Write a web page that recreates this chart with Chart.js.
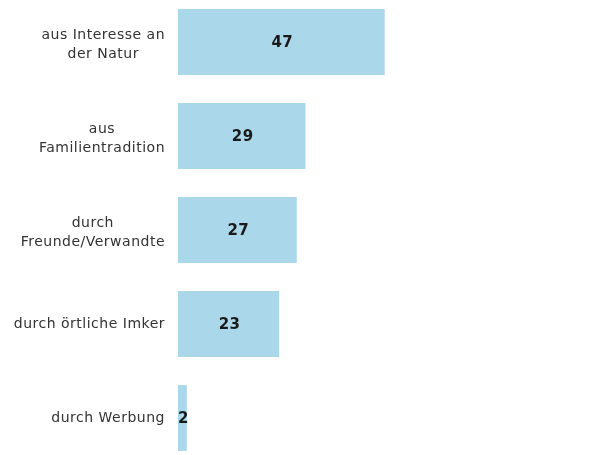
<!DOCTYPE html>
<html>
<head>
<meta charset="utf-8">
<script src="https://cdn.jsdelivr.net/npm/chart.js@4"></script>
<style>
  html, body { margin: 0; padding: 0; background: #fff; overflow: hidden; }
  #wrap { position: absolute; left: 0; top: -5px; width: 609px; height: 470px; }
</style>
</head>
<body>
<div id="wrap"><canvas id="chart" width="609" height="470"></canvas></div>
<script>
// categories and values
const categories = [
  ["aus Interesse an", "der Natur"],
  ["aus", "Familientradition"],
  ["durch", "Freunde/Verwandte"],
  ["durch örtliche Imker"],
  ["durch Werbung"]
];
const values = [47, 29, 27, 23, 2];

const barColor = "#aad8ea";
const labelFont = '14px "DejaVu Sans", Verdana, sans-serif';
const valueFont = 'bold 15px "DejaVu Sans", Verdana, sans-serif';

// draws the category texts (block right-aligned, lines centred) and the numbers in the bars
const textPlugin = {
  id: "texts",
  afterDatasetsDraw(chart) {
    const ctx = chart.ctx;
    const yScale = chart.scales.y;
    ctx.save();
    ctx.textBaseline = "middle";

    ctx.font = labelFont;
    ctx.letterSpacing = "0.5px";
    ctx.fillStyle = "#333";
    ctx.textAlign = "center";
    categories.forEach((lines, i) => {
      const y = yScale.getPixelForValue(i);
      const blockW = Math.max(...lines.map(l => ctx.measureText(l).width));
      const cx = 165 - blockW / 2;
      const lh = 19;
      const off = lines.length > 1 ? 3 : 0;
      lines.forEach((line, j) => {
        ctx.fillText(line, cx, y + (j - (lines.length - 1) / 2) * lh + off);
      });
    });

    ctx.font = valueFont;
    ctx.letterSpacing = "0.5px";
    ctx.fillStyle = "#1a1a1a";
    chart.getDatasetMeta(0).data.forEach((bar, i) => {
      ctx.fillText(String(values[i]), (bar.x + bar.base) / 2 + 1, bar.y + 1);
    });
    ctx.restore();
  }
};

new Chart(document.getElementById("chart"), {
  type: "bar",
  data: {
    labels: categories,
    datasets: [{
      data: values,
      backgroundColor: barColor,
      borderWidth: 0,
      barPercentage: 0.7,
      categoryPercentage: 1
    }]
  },
  options: {
    indexAxis: "y",
    responsive: false,
    animation: false,
    devicePixelRatio: 1,
    layout: { padding: 0 },
    plugins: {
      legend: { display: false },
      tooltip: { enabled: false }
    },
    scales: {
      x: {
        display: false,
        min: 0,
        max: 98
      },
      y: {
        grid: { display: false },
        border: { display: false },
        ticks: { display: false },
        afterFit: (s) => { s.width = 178; }
      }
    }
  },
  plugins: [textPlugin]
});
</script>
</body>
</html>
